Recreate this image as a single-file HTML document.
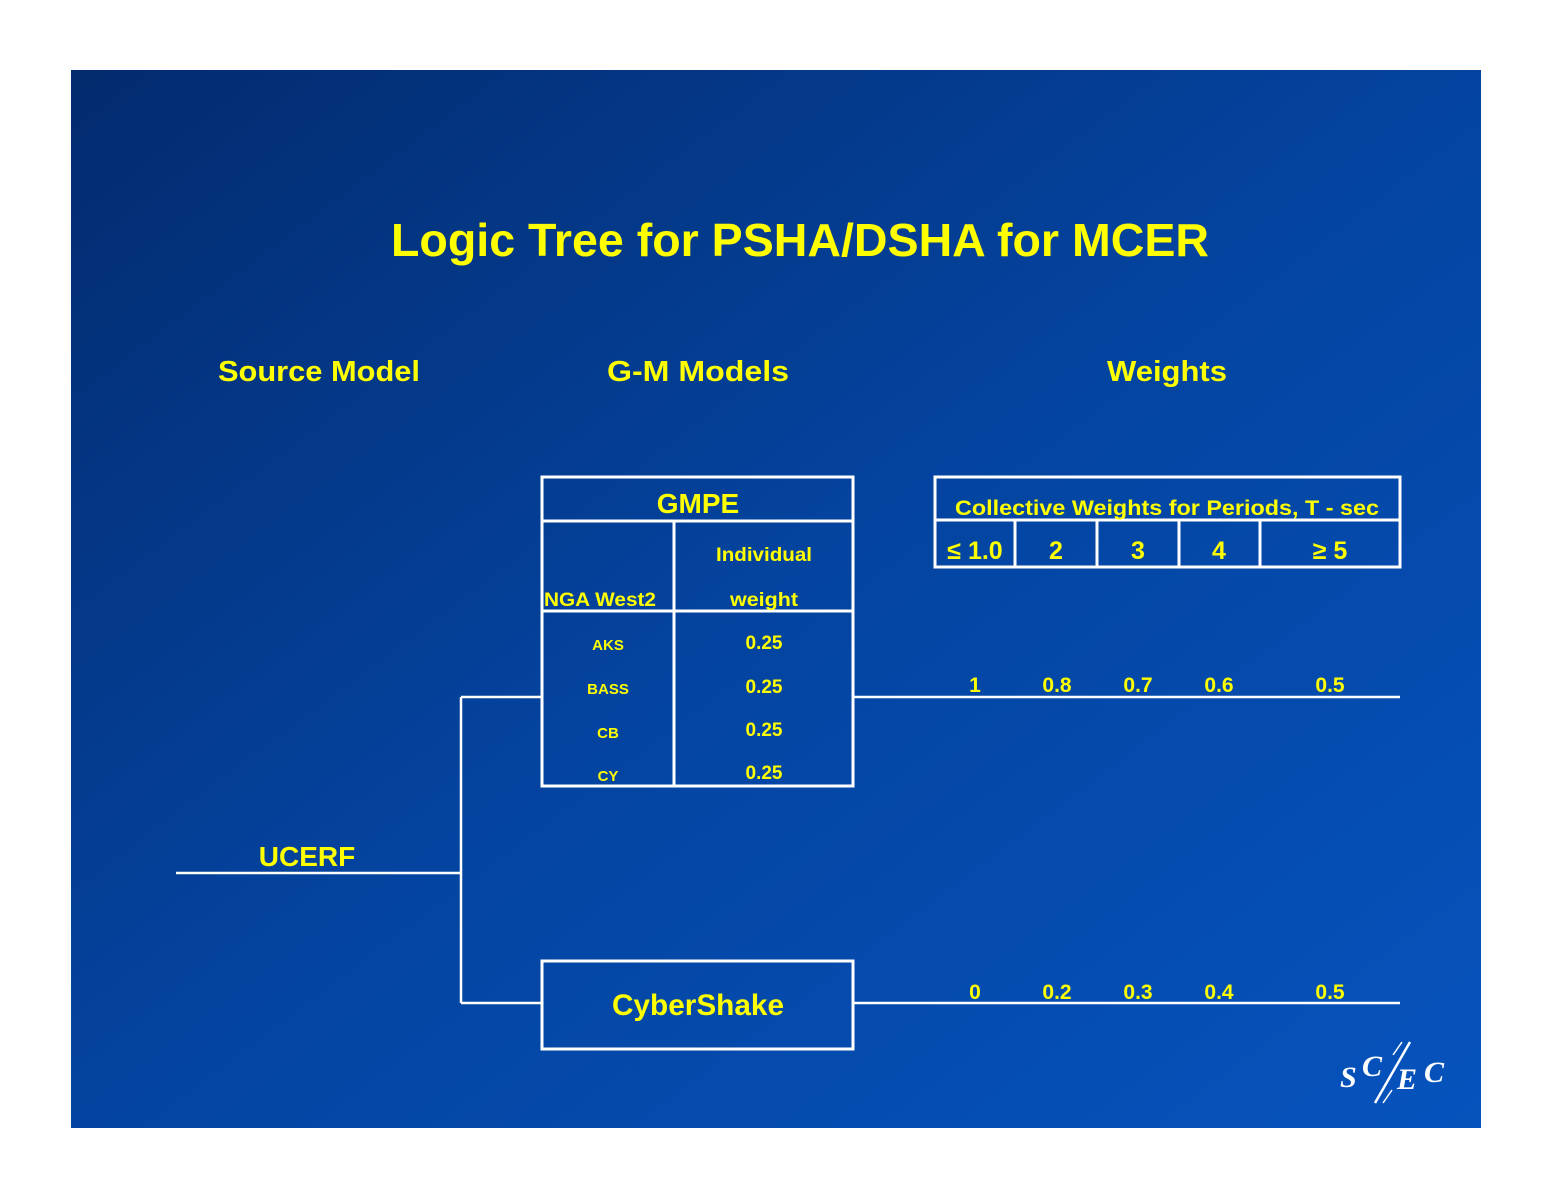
<!DOCTYPE html>
<html><head><meta charset="utf-8"><style>
html,body{margin:0;padding:0;background:#fff;}
svg{display:block}
text{font-family:"Liberation Sans",sans-serif;font-weight:bold;fill:#ffff00;}
</style></head><body>
<svg width="1552" height="1199" viewBox="0 0 1552 1199" xmlns="http://www.w3.org/2000/svg">
<defs>
<linearGradient id="bg" x1="0" y1="0" x2="1" y2="1">
<stop offset="0" stop-color="#032b6e"/>
<stop offset="0.5" stop-color="#0444a0"/>
<stop offset="1" stop-color="#0653bd"/>
</linearGradient>
</defs>
<rect x="71" y="70" width="1410" height="1058" fill="url(#bg)"/>
<text x="800" y="256" font-size="46" text-anchor="middle" textLength="818" lengthAdjust="spacingAndGlyphs">Logic Tree for PSHA/DSHA for MCER</text>
<text x="319" y="381" font-size="29" text-anchor="middle" textLength="202" lengthAdjust="spacingAndGlyphs">Source Model</text>
<text x="698" y="381" font-size="29" text-anchor="middle" textLength="182" lengthAdjust="spacingAndGlyphs">G-M Models</text>
<text x="1167" y="381" font-size="29" text-anchor="middle" textLength="120" lengthAdjust="spacingAndGlyphs">Weights</text>
<g stroke="#fff" stroke-width="3" fill="none">
<rect x="542" y="477" width="311" height="309"/>
<line x1="542" y1="521" x2="853" y2="521"/>
<line x1="542" y1="611" x2="853" y2="611"/>
<line x1="674" y1="521" x2="674" y2="786"/>
<rect x="935" y="477" width="465" height="90"/>
<line x1="935" y1="520" x2="1400" y2="520"/>
<line x1="1015" y1="520" x2="1015" y2="567"/>
<line x1="1097" y1="520" x2="1097" y2="567"/>
<line x1="1179" y1="520" x2="1179" y2="567"/>
<line x1="1260" y1="520" x2="1260" y2="567"/>
<rect x="542" y="961" width="311" height="88"/>
<line x1="176" y1="873" x2="461" y2="873" stroke-width="2.5"/>
<line x1="461" y1="697" x2="461" y2="1003" stroke-width="2.5"/>
<line x1="461" y1="697" x2="542" y2="697" stroke-width="2.5"/>
<line x1="461" y1="1003" x2="542" y2="1003" stroke-width="2.5"/>
<line x1="853" y1="697" x2="1400" y2="697" stroke-width="2.5"/>
<line x1="853" y1="1003" x2="1400" y2="1003" stroke-width="2.5"/>
</g>
<text x="698" y="513" font-size="28" text-anchor="middle">GMPE</text>
<text x="764" y="561" font-size="19" text-anchor="middle" textLength="96" lengthAdjust="spacingAndGlyphs">Individual</text>
<text x="764" y="606" font-size="19" text-anchor="middle" textLength="68" lengthAdjust="spacingAndGlyphs">weight</text>
<text x="544" y="606" font-size="19" textLength="112" lengthAdjust="spacingAndGlyphs">NGA West2</text>
<g font-size="15" text-anchor="middle">
<text x="608" y="650">AKS</text><text x="608" y="694">BASS</text><text x="608" y="738">CB</text><text x="608" y="781">CY</text>
</g>
<g font-size="19" text-anchor="middle">
<text x="764" y="649">0.25</text><text x="764" y="693">0.25</text><text x="764" y="736">0.25</text><text x="764" y="779">0.25</text>
</g>
<text x="1167" y="515" font-size="21" text-anchor="middle" textLength="424" lengthAdjust="spacingAndGlyphs">Collective Weights for Periods, T - sec</text>
<g font-size="25" text-anchor="middle">
<text x="975" y="559">≤ 1.0</text><text x="1056" y="559">2</text><text x="1138" y="559">3</text><text x="1219" y="559">4</text><text x="1330" y="559">≥ 5</text>
</g>
<g font-size="21" text-anchor="middle">
<text x="975" y="692">1</text><text x="1057" y="692">0.8</text><text x="1138" y="692">0.7</text><text x="1219" y="692">0.6</text><text x="1330" y="692">0.5</text>
<text x="975" y="999">0</text><text x="1057" y="999">0.2</text><text x="1138" y="999">0.3</text><text x="1219" y="999">0.4</text><text x="1330" y="999">0.5</text>
</g>
<text x="307" y="866" font-size="28" text-anchor="middle">UCERF</text>
<text x="698" y="1015" font-size="30" text-anchor="middle" textLength="172" lengthAdjust="spacingAndGlyphs">CyberShake</text>
<g font-family="Liberation Serif" font-style="italic">
<text x="1340" y="1087" font-size="30" style="fill:#fff;font-family:'Liberation Serif',serif">S</text>
<text x="1362" y="1076" font-size="30" style="fill:#fff;font-family:'Liberation Serif',serif">C</text>
<text x="1397" y="1089" font-size="30" style="fill:#fff;font-family:'Liberation Serif',serif">E</text>
<text x="1424" y="1082" font-size="30" style="fill:#fff;font-family:'Liberation Serif',serif">C</text>
</g>
<g stroke="#fff" stroke-width="2.5">
<line x1="1410" y1="1042" x2="1375" y2="1103"/>
<line x1="1393" y1="1055" x2="1402" y2="1042" stroke-width="1.5"/>
<line x1="1392" y1="1090" x2="1383" y2="1103" stroke-width="1.5"/>
</g>
</svg>
</body></html>
